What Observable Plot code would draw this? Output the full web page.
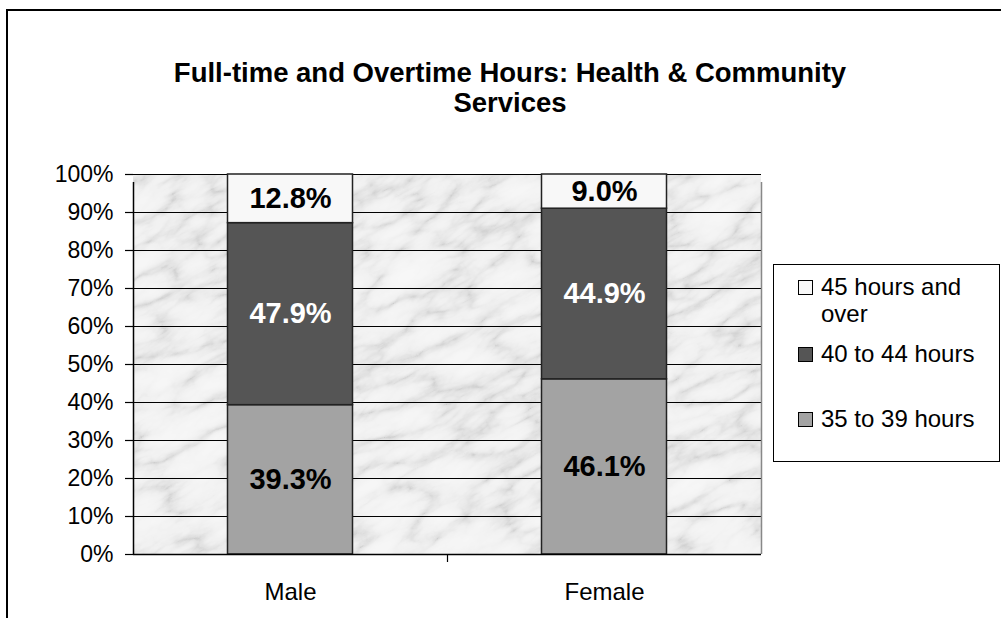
<!DOCTYPE html>
<html>
<head>
<meta charset="utf-8">
<script src="https://cdn.jsdelivr.net/npm/d3@7"></script>
<script src="https://cdn.jsdelivr.net/npm/@observablehq/plot@0.6"></script>
<style>
  html, body { margin: 0; padding: 0; background: white; overflow: hidden; }
  #wrap { position: relative; width: 1001px; height: 618px; overflow: hidden; font-family: "Liberation Sans", Arial, sans-serif; }
  #outer { position: absolute; left: 6px; top: 9px; width: 1040px; height: 700px; border: 2px solid #000; box-sizing: border-box; pointer-events: none; z-index: 3; }
  #title { position: absolute; left: 110px; width: 800px; top: 58px; text-align: center; font-weight: bold; font-size: 27.5px; line-height: 30px; color: #000; z-index: 2; }
  #legend { position: absolute; left: 773px; top: 264px; width: 227px; height: 198px; border: 1px solid #000; box-sizing: border-box; background: white; z-index: 2; font-size: 24px; color: #000; }
  .item { position: absolute; left: 24px; }
  .sw { position: absolute; left: 0; width: 13px; height: 13px; border: 1px solid #000; }
  .lab { position: absolute; left: 23px; white-space: nowrap; line-height: 27px; }
  #chart { position: absolute; left: 0; top: 0; z-index: 1; }
</style>
</head>
<body>
<div id="wrap">
  <div id="outer"></div>
  <div id="title">Full-time and Overtime Hours: Health &amp; Community<br>Services</div>
  <div id="chart"></div>
  <div id="legend"></div>
</div>
<script>
const categories = ["Male", "Female"];
const seriesNames = ["35 to 39 hours", "40 to 44 hours", "45 hours and over"];
const hours35to39 = [39.3, 46.1];
const hours40to44 = [47.9, 44.9];
const hours45plus = [12.8, 9.0];
const yTicks = [0, 10, 20, 30, 40, 50, 60, 70, 80, 90, 100];
const seriesColors = ["#a3a3a3", "#555555", "#f8f8f8"];
const labelColors = ["#000", "#fff", "#000"];
const legendOrder = ["45 hours and over", "40 to 44 hours", "35 to 39 hours"];

const seriesValues = [hours35to39, hours40to44, hours45plus];
const data = [];
seriesNames.forEach((s, si) => {
  categories.forEach((c, ci) => {
    data.push({category: c, series: s, value: seriesValues[si][ci]});
  });
});

// marble background drawn in the plot frame
function marble(index, scales, values, dimensions) {
  const {width, height, marginLeft, marginRight, marginTop, marginBottom} = dimensions;
  const x0 = marginLeft, y0 = marginTop, w = width - marginLeft - marginRight, h = height - marginTop - marginBottom;
  const g = d3.create("svg:g");
  const defs = g.append("defs");
  const f = defs.append("filter").attr("id", "marbleF").attr("x", 0).attr("y", 0).attr("width", 1).attr("height", 1)
    .attr("filterUnits", "objectBoundingBox").attr("color-interpolation-filters", "sRGB");
  f.append("feTurbulence").attr("type", "turbulence").attr("baseFrequency", "0.014 0.035").attr("numOctaves", 5).attr("seed", 11).attr("result", "t");
  f.append("feColorMatrix").attr("type", "matrix").attr("values", "1 0 0 0 0  1 0 0 0 0  1 0 0 0 0  0 0 0 0 1");
  const ct = f.append("feComponentTransfer");
  const tv = "0.8 0.88 0.92 0.945 0.955 0.962 0.967 0.97 0.972";
  ct.append("feFuncR").attr("type", "table").attr("tableValues", tv);
  ct.append("feFuncG").attr("type", "table").attr("tableValues", tv);
  ct.append("feFuncB").attr("type", "table").attr("tableValues", tv);
  defs.append("clipPath").attr("id", "marbleClip").append("rect").attr("x", x0).attr("y", y0).attr("width", w).attr("height", h);
  const cx = x0 + w / 2, cy = y0 + h / 2, R = Math.hypot(w, h);
  g.append("g").attr("clip-path", "url(#marbleClip)")
    .append("rect").attr("x", cx - R / 2).attr("y", cy - R / 2).attr("width", R).attr("height", R)
    .attr("fill", "#eee").attr("filter", "url(#marbleF)")
    .attr("transform", `rotate(-28 ${cx} ${cy})`);
  return g.node();
}

const band = 314;
const plot = Plot.plot({
  width: 1001,
  height: 618,
  marginLeft: 133,
  marginRight: 240,
  marginTop: 174,
  marginBottom: 64,
  style: {background: "transparent", overflow: "visible", fontFamily: "'Liberation Sans', Arial, sans-serif", color: "#000"},
  x: {domain: categories, padding: 0, label: null},
  y: {domain: [0, 100], label: null},
  color: {type: "identity"},
  marks: [
    marble,
    Plot.ruleY(yTicks, {y: d => d, stroke: "#000", strokeWidth: 1.2}),
    Plot.barY(data, Plot.stackY({x: "category", y: "value", z: "series", fill: d => seriesColors[seriesNames.indexOf(d.series)], insetLeft: 94.5, insetRight: 94.5, stroke: "#222", strokeWidth: 1.5})),
    Plot.text(data, Plot.stackY({x: "category", y: "value", z: "series", text: d => d.value.toFixed(1) + "%", fill: d => labelColors[seriesNames.indexOf(d.series)], fontSize: 29, fontWeight: "bold"})),
    // axis lines and boundary ticks
    Plot.ruleX([categories[0]], {x: d => d, dx: -band / 2, y1: 0, y2: 100, insetBottom: -8, stroke: "#000", strokeWidth: 1.5}),
    Plot.ruleX([categories[0]], {x: d => d, dx: band / 2, y1: 0, y2: 0, insetBottom: -8, stroke: "#000", strokeWidth: 1.2}),
    Plot.ruleX([categories[categories.length - 1]], {x: d => d, dx: band / 2, y1: 0, y2: 100, insetBottom: -8, stroke: "#888", strokeWidth: 1.5}),
    Plot.ruleY([0], {stroke: "#000", strokeWidth: 1.5}),
    Plot.axisY({ticks: yTicks, tickFormat: d => d + "%", tickSize: 8, tickPadding: 12, fontSize: 23, stroke: "#000", strokeWidth: 1.2}),
    Plot.axisX({tickSize: 0, tickPadding: 28, fontSize: 24})
  ]
});
document.getElementById("chart").appendChild(plot);

// legend
const legend = document.getElementById("legend");
const legendRows = {
  "45 hours and over": {top: 8, lines: ["45 hours and", "over"]},
  "40 to 44 hours": {top: 75, lines: ["40 to 44 hours"]},
  "35 to 39 hours": {top: 140, lines: ["35 to 39 hours"]}
};
legendOrder.forEach(name => {
  const row = legendRows[name];
  const item = document.createElement("div");
  item.className = "item";
  item.style.top = row.top + "px";
  const sw = document.createElement("div");
  sw.className = "sw";
  sw.style.top = "7px";
  sw.style.background = seriesColors[seriesNames.indexOf(name)];
  item.appendChild(sw);
  const lab = document.createElement("div");
  lab.className = "lab";
  lab.innerHTML = row.lines.join("<br>");
  item.appendChild(lab);
  legend.appendChild(item);
});
</script>
</body>
</html>
